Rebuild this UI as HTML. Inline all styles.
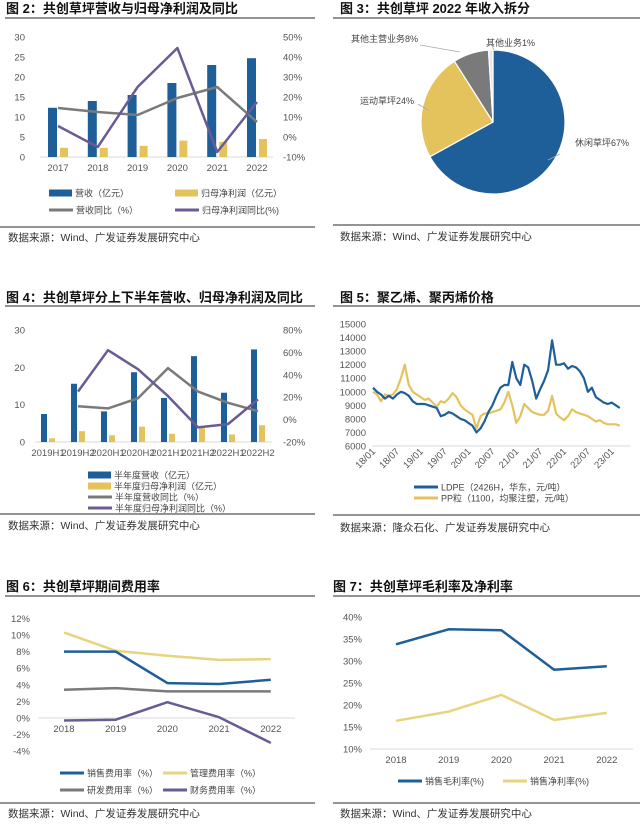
<!DOCTYPE html>
<html><head><meta charset="utf-8">
<style>
body{margin:0;background:#fff;width:640px;height:825px;overflow:hidden}
svg{display:block;font-family:"Liberation Sans","Noto Sans CJK SC",sans-serif}
.t{font-family:"Liberation Sans","Noto Sans CJK SC",sans-serif;font-weight:bold;font-size:13px;fill:#111}
.src{font-size:10.5px;fill:#333}
.tk{font-size:9.5px;fill:#555}
.lg{font-size:9px;fill:#444}
</style></head>
<body>
<svg id="s" width="640" height="825" viewBox="0 0 640 825">
<g>
<text class="t" x="6" y="13">图 2：共创草坪营收与归母净利润及同比</text>
<text class="t" x="340" y="13">图 3：共创草坪 2022 年收入拆分</text>
<text class="t" x="6" y="302">图 4：共创草坪分上下半年营收、归母净利润及同比</text>
<text class="t" x="340" y="302">图 5：聚乙烯、聚丙烯价格</text>
<text class="t" x="6" y="591">图 6：共创草坪期间费用率</text>
<text class="t" x="333" y="591">图 7：共创草坪毛利率及净利率</text>
</g>
<g stroke="#555" stroke-width="1.2">
<line x1="5" y1="18" x2="315" y2="18"/><line x1="333" y1="18" x2="640" y2="18"/>
<line x1="0" y1="227" x2="315" y2="227"/><line x1="333" y1="225" x2="640" y2="225"/>
<line x1="5" y1="306" x2="315" y2="306"/><line x1="333" y1="306" x2="640" y2="306"/>
<line x1="0" y1="514" x2="315" y2="514"/><line x1="333" y1="515" x2="640" y2="515"/>
<line x1="5" y1="596" x2="315" y2="596"/><line x1="333" y1="596" x2="640" y2="596"/>
<line x1="0" y1="803" x2="315" y2="803"/><line x1="333" y1="803" x2="640" y2="803"/>
</g>
<g>
<text class="src" x="8" y="241">数据来源：Wind、广发证券发展研究中心</text>
<text class="src" x="340" y="240">数据来源：Wind、广发证券发展研究中心</text>
<text class="src" x="8" y="529">数据来源：Wind、广发证券发展研究中心</text>
<text class="src" x="340" y="531">数据来源：隆众石化、广发证券发展研究中心</text>
<text class="src" x="8" y="817">数据来源：Wind、广发证券发展研究中心</text>
<text class="src" x="340" y="817">数据来源：Wind、广发证券发展研究中心</text>
</g>
</svg>
<script>
// Chart 2
const c2Years=["2017","2018","2019","2020","2021","2022"];
const c2Rev=[12.3,14,15.5,18.5,23,24.7];
const c2Profit=[2.3,2.3,2.8,4.1,3.8,4.5];
const c2RevYoy=[14.5,12.5,11,19.5,25,7.5];
const c2ProfitYoy=[5.5,-5,25,44.5,-7.5,17.5];
const c2LeftTicks=[0,5,10,15,20,25,30];
const c2RightTicks=[-10,0,10,20,30,40,50];
// Chart 3
const c3Labels=["休闲草坪67%","运动草坪24%","其他主营业务8%","其他业务1%"];
const c3Values=[67,24,8,1];
// Chart 4
const c4Cats=["2019H1","2019H2","2020H1","2020H2","2021H1","2021H2","2022H1","2022H2"];
const c4Rev=[7.5,15.6,8.2,18.7,11.8,23,13.2,24.8];
const c4Profit=[1.0,2.9,1.8,4.1,2.2,3.7,2.0,4.5];
const c4RevYoy=[null,12,10,19,46,25,15,7.5];
const c4ProfitYoy=[null,25,62,45,21,-7,-4,18];
const c4LeftTicks=[0,10,20,30];
const c4RightTicks=[-20,0,20,40,60,80];
// Chart 5 (monthly, 18/01 .. 23/03)
const c5LDPE=[10300,10000,9800,9500,9700,9500,9800,10000,9900,9700,9300,9100,
9100,9100,9000,8900,8800,8200,8300,8500,8400,8200,8000,7900,
7700,7500,7000,7300,7800,8500,9000,9700,10300,10500,10500,12200,
11000,10500,12000,11800,10800,9500,10200,10800,11600,13800,12000,12000,
12100,11700,11900,11800,11500,11000,10000,10300,9600,9400,9200,9100,
9200,9000,8800];
const c5PP=[10000,9800,9300,9800,9700,9800,10200,11000,12000,10500,10000,9800,
9600,9400,9500,9200,8900,9300,9200,9500,9900,9600,9000,8700,
8500,8300,7300,8200,8400,8400,8500,8600,8700,9200,10000,9000,
7700,8200,9100,8800,8500,8400,8300,8300,8600,9700,8400,8100,
7900,8200,8700,8500,8400,8300,8200,8000,7800,7900,7700,7600,
7600,7600,7500];
const c5YTicks=[6000,7000,8000,9000,10000,11000,12000,13000,14000,15000];
const c5XTicks=["18/01","18/07","19/01","19/07","20/01","20/07","21/01","21/07","22/01","22/07","23/01"];
// Chart 6
const c6Years=["2018","2019","2020","2021","2022"];
const c6Sales=[8,8,4.2,4.1,4.6];
const c6Admin=[10.3,8.1,7.5,7,7.1];
const c6RD=[3.4,3.6,3.2,3.2,3.2];
const c6Fin=[-0.3,-0.2,1.9,0.1,-3];
const c6Ticks=[-4,-2,0,2,4,6,8,10,12];
// Chart 7
const c7Years=["2018","2019","2020","2021","2022"];
const c7Gross=[33.8,37.2,37,28,28.8];
const c7Net=[16.4,18.5,22.3,16.6,18.2];
const c7Ticks=[10,15,20,25,30,35,40];

const NS="http://www.w3.org/2000/svg";
const S=document.getElementById('s');
const BLUE="#1f5f99",YEL="#e5c35c",GRY="#7a7a7a",PUR="#6b5b95",LYEL="#e6d57e";
function mk(tag,attrs,name,parent){
  const el=document.createElementNS(NS,tag);
  for(const k in attrs)el.setAttribute(k,attrs[k]);
  
  
  (parent||S).appendChild(el);return el;
}
function txt(x,y,s,cls,anchor,name,extra){
  const el=mk('text',Object.assign({x:x,y:y,class:cls,'text-anchor':anchor||'start'},extra||{}),name);
  el.textContent=s;return el;
}
function poly(pts,color,w,name){
  const d=pts.filter(p=>p).map(p=>p[0].toFixed(1)+','+p[1].toFixed(1)).join(' ');
  return mk('polyline',{points:d,fill:'none',stroke:color,'stroke-width':w,'stroke-linejoin':'round'},name);
}
function legLine(x,y,color,label,name,w,len){
  mk('line',{x1:x,y1:y,x2:x+(len||24),y2:y,stroke:color,'stroke-width':w||3},name+'-swatch');
  txt(x+(len||24)+3,y+3.5,label,'lg','start',name);
}
function legRect(x,y,color,label,name){
  mk('rect',{x:x,y:y-3.5,width:23,height:7,fill:color},name+'-swatch');
  txt(x+26,y+3.5,label,'lg','start',name);
}

// ---- Chart 2
(function(){
  const yL=v=>157-v*4, yR=v=>137-v*2, cx=i=>58+i*39.8;
  mk('line',{x1:40,y1:157,x2:273,y2:157,stroke:'#d9d9d9'},'c2-x-axis');
  c2LeftTicks.forEach(v=>txt(25,yL(v)+3.5,String(v),'tk','end','c2-left-tick'));
  c2RightTicks.forEach(v=>txt(283,yR(v)+3.5,v+'%','tk','start','c2-right-tick'));
  c2Years.forEach((y,i)=>txt(cx(i),171,y,'tk','middle','c2-x-tick'));
  c2Rev.forEach((v,i)=>mk('rect',{x:cx(i)-10,y:yL(v),width:9,height:v*4,fill:BLUE},'c2-bar-revenue'));
  c2Profit.forEach((v,i)=>mk('rect',{x:cx(i)+2,y:yL(v),width:8,height:v*4,fill:YEL},'c2-bar-profit'));
  poly(c2RevYoy.map((v,i)=>[cx(i),yR(v)]),GRY,2.5,'c2-line-revenue-yoy');
  poly(c2ProfitYoy.map((v,i)=>[cx(i),yR(v)]),PUR,2.5,'c2-line-profit-yoy');
  legRect(49,193,BLUE,'营收（亿元）','c2-legend-revenue');
  legRect(175,193,YEL,'归母净利润（亿元）','c2-legend-profit');
  legLine(49,210,GRY,'营收同比（%）','c2-legend-revenue-yoy');
  legLine(175,210,PUR,'归母净利润同比(%)','c2-legend-profit-yoy');
})();

// ---- Chart 3
(function(){
  const cx=493,cy=122,r=72,cols=[BLUE,YEL,GRY,"#e8e8e8"];
  const tot=c3Values.reduce((a,b)=>a+b,0);let a0=0;
  c3Values.forEach((v,i)=>{
    const a1=a0+v/tot*2*Math.PI;
    const p=(a)=>[cx+r*Math.sin(a),cy-r*Math.cos(a)];
    const [x0,y0]=p(a0),[x1,y1]=p(a1);
    mk('path',{d:`M${cx},${cy}L${x0},${y0}A${r},${r} 0 ${a1-a0>Math.PI?1:0} 1 ${x1},${y1}Z`,fill:cols[i],stroke:'#fff','stroke-width':1.2},'c3-slice');
    a0=a1;
  });
  const lp=[[575,146,'start',560,154,548,160],[414,104,'end',418,104,428,110],[418,42,'end',420,45,460,52],[486,46,'start',492,46,494,50]];
  c3Labels.forEach((s,i)=>{
    const L=lp[i];
    mk('line',{x1:L[3],y1:L[4],x2:L[5],y2:L[6],stroke:'#aaa','stroke-width':0.8},'c3-leader');
    txt(L[0],L[1],s,'lg',L[2],'c3-label',{'font-size':'9.5'});
  });
})();

// ---- Chart 4
(function(){
  const yL=v=>442-v*3.733, yR=v=>442-(v+20)*1.12, cx=i=>48+i*30;
  mk('line',{x1:35,y1:442,x2:272,y2:442,stroke:'#d9d9d9'},'c4-x-axis');
  c4LeftTicks.forEach(v=>txt(25,yL(v)+3.5,String(v),'tk','end','c4-left-tick'));
  c4RightTicks.forEach(v=>txt(283,yR(v)+3.5,v+'%','tk','start','c4-right-tick'));
  c4Cats.forEach((c,i)=>txt(cx(i),456,c,'tk','middle','c4-x-tick',{'font-size':'9'}));
  c4Rev.forEach((v,i)=>mk('rect',{x:cx(i)-7,y:yL(v),width:6,height:v*3.733,fill:BLUE},'c4-bar-revenue'));
  c4Profit.forEach((v,i)=>mk('rect',{x:cx(i)+1,y:yL(v),width:6,height:v*3.733,fill:YEL},'c4-bar-profit'));
  poly(c4RevYoy.map((v,i)=>v===null?null:[cx(i),yR(v)]),GRY,2.5,'c4-line-revenue-yoy');
  poly(c4ProfitYoy.map((v,i)=>v===null?null:[cx(i),yR(v)]),PUR,2.5,'c4-line-profit-yoy');
  legRect(88,475,BLUE,'半年度营收（亿元）','c4-legend-revenue');
  legRect(88,486,YEL,'半年度归母净利润（亿元）','c4-legend-profit');
  legLine(88,497,GRY,'半年度营收同比（%）','c4-legend-revenue-yoy');
  legLine(88,508,PUR,'半年度归母净利润同比（%）','c4-legend-profit-yoy');
})();

// ---- Chart 5
(function(){
  const y=v=>446-(v-6000)*122/9000, x=i=>373+i*3.98;
  mk('line',{x1:372,y1:446,x2:630,y2:446,stroke:'#d9d9d9'},'c5-x-axis');
  c5YTicks.forEach(v=>txt(366,y(v)+3.5,String(v),'tk','end','c5-y-tick'));
  c5XTicks.forEach((s,i)=>txt(x(i*6)+3,452,s,'tk','end','c5-x-tick',{transform:`rotate(-45 ${x(i*6)+3} 452)`}));
  poly(c5PP.map((v,i)=>[x(i),y(v)]),YEL,2.2,'c5-line-pp');
  poly(c5LDPE.map((v,i)=>[x(i),y(v)]),BLUE,2.2,'c5-line-ldpe');
  legLine(414,487,BLUE,'LDPE（2426H，华东，元/吨）','c5-legend-ldpe');
  legLine(414,498,YEL,'PP粒（1100，均聚注塑，元/吨）','c5-legend-pp');
})();

// ---- Chart 6
(function(){
  const y=v=>718-v*8.3, x=i=>64+i*51.7;
  mk('line',{x1:38,y1:718,x2:295,y2:718,stroke:'#d9d9d9'},'c6-zero-line');
  c6Ticks.forEach(v=>txt(30,y(v)+3.5,v+'%','tk','end','c6-y-tick'));
  c6Years.forEach((s,i)=>txt(x(i),732,s,'tk','middle','c6-x-tick'));
  poly(c6Admin.map((v,i)=>[x(i),y(v)]),LYEL,2.5,'c6-line-admin');
  poly(c6Sales.map((v,i)=>[x(i),y(v)]),BLUE,2.5,'c6-line-sales');
  poly(c6RD.map((v,i)=>[x(i),y(v)]),GRY,2.5,'c6-line-rd');
  poly(c6Fin.map((v,i)=>[x(i),y(v)]),PUR,2.5,'c6-line-finance');
  legLine(60,773,BLUE,'销售费用率（%）','c6-legend-sales');
  legLine(163,773,LYEL,'管理费用率（%）','c6-legend-admin');
  legLine(60,790,GRY,'研发费用率（%）','c6-legend-rd');
  legLine(163,790,PUR,'财务费用率（%）','c6-legend-finance');
})();

// ---- Chart 7
(function(){
  const y=v=>749-(v-10)*4.4, x=i=>396+i*52.7;
  mk('line',{x1:370,y1:749,x2:633,y2:749,stroke:'#d9d9d9'},'c7-x-axis');
  c7Ticks.forEach(v=>txt(362,y(v)+3.5,v+'%','tk','end','c7-y-tick'));
  c7Years.forEach((s,i)=>txt(x(i),763,s,'tk','middle','c7-x-tick'));
  poly(c7Gross.map((v,i)=>[x(i),y(v)]),BLUE,2.5,'c7-line-gross');
  poly(c7Net.map((v,i)=>[x(i),y(v)]),LYEL,2.5,'c7-line-net');
  legLine(398,781,BLUE,'销售毛利率(%)','c7-legend-gross');
  legLine(503,781,LYEL,'销售净利率(%)','c7-legend-net');
})();
</script>
</body></html>
